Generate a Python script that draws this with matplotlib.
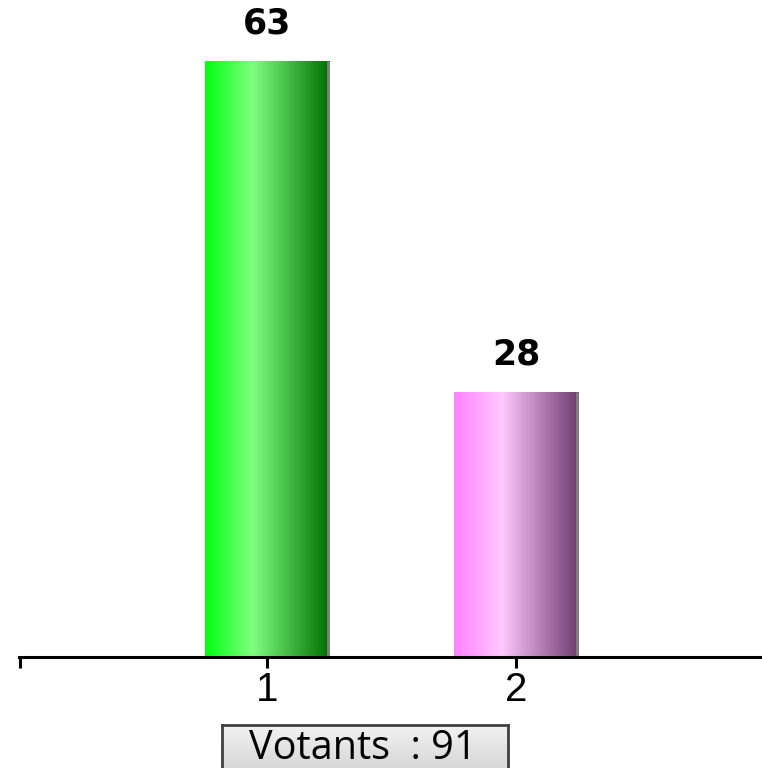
import numpy as np
import matplotlib.pyplot as plt
from matplotlib.colors import LinearSegmentedColormap

categories = ["1", "2"]
votes = [63, 28]
total_label = "Votants  : 91"

# gradient stops: left edge, highlight, right edge
bar_gradients = [
    ["#00ff10", "#80ff80", "#006e00"],
    ["#ff80ff", "#ffc8ff", "#6e3c6e"],
]

W, H = 762, 768
fig = plt.figure(figsize=(W / 100, H / 100), dpi=100)
ax = fig.add_axes([19 / W, 111 / H, 743 / W, 657 / H])

x = np.arange(1, len(categories) + 1)
bars = ax.bar(x, votes, width=0.5, color="none", edgecolor="none", zorder=2)

for bar, stops, v in zip(bars, bar_gradients, votes):
    x0, w, h = bar.get_x(), bar.get_width(), bar.get_height()
    cmap = LinearSegmentedColormap.from_list("g", [(0, stops[0]), (0.38, stops[1]), (1, stops[2])])
    grad = np.linspace(0, 1, 256).reshape(1, -1)
    ax.imshow(grad, cmap=cmap, aspect="auto", extent=[x0, x0 + w, 0, h], zorder=2)
    # thin gray edge on the right side
    ax.plot([x0 + w - 0.004, x0 + w - 0.004], [0, h], color="#808080", lw=2, zorder=3,
            solid_capstyle="butt")
    ax.annotate(str(v), (x0 + w / 2, h), xytext=(0, 15), textcoords="offset points",
                ha="center", va="bottom", fontsize=25, fontweight="bold",
                family="DejaVu Sans")

ax.set_xlim(1 - 248 / 249, 2 + 246 / 249)
ax.set_ylim(0, 657 / 9.46)

for side in ["top", "right", "left"]:
    ax.spines[side].set_visible(False)
ax.spines["bottom"].set_linewidth(2.2)
ax.spines["bottom"].set_zorder(4)
ax.set_yticks([])
ax.set_xticks(np.concatenate([[ax.get_xlim()[0] + 0.004], x]))
ax.set_xticklabels([""] + categories, fontsize=29, family="Liberation Sans")
ax.tick_params(axis="x", length=8, width=2.2, pad=2)

# summary box below the axis, shaded light gray
bx = fig.add_axes([222 / W, -5 / H, 286 / W, 48 / H])
bx.imshow(np.linspace(0, 1, 64).reshape(-1, 1),
          cmap=LinearSegmentedColormap.from_list("box", ["#f2f2f2", "#d4d4d4"]),
          aspect="auto", extent=[0, 1, 0, 1])
bx.set_xticks([])
bx.set_yticks([])
for s in bx.spines.values():
    s.set_color("#404040")
    s.set_linewidth(2)
fig.text(363 / W, 9 / H, total_label, ha="center", va="baseline", fontsize=28.5,
         family="Open Sans")

fig.savefig("out.png", dpi=100)
